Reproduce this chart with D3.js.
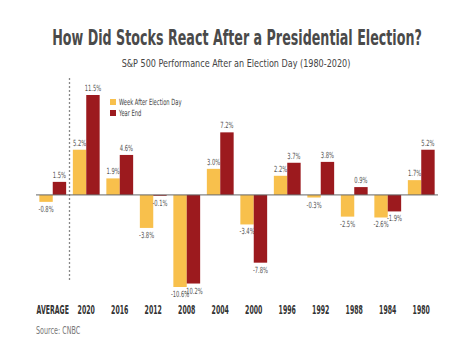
<!DOCTYPE html>
<html><head><meta charset="utf-8">
<script src="https://cdn.jsdelivr.net/npm/d3@7"></script>
<style>body{margin:0;background:#fff}svg{display:block}</style>
</head><body>
<svg id="c" width="474" height="355"></svg>
<script>
const categories = ["AVERAGE","2020","2016","2012","2008","2004","2000","1996","1992","1988","1984","1980"];
const weekAfter = [-0.8,5.2,1.9,-3.8,-10.6,3.0,-3.4,2.2,-0.3,-2.5,-2.6,1.7];
const yearEnd = [1.5,11.5,4.6,-0.1,-10.2,7.2,-7.8,3.7,3.8,0.9,-1.9,5.2];
const seriesNames = ["Week After Election Day","Year End"];
const colors = ["#F8C04C","#9C1A1E"];

const font = "'DejaVu Sans Condensed','Liberation Sans Narrow',sans-serif";
const svg = d3.select("#c");
// horizontally compress text (condensed display face look) via transform
function squeeze(sel, f, target){
  sel.each(function(){
    const s = d3.select(this);
    const tx = +s.attr("x"), ty = +s.attr("y");
    const w = this.getComputedTextLength();
    const k = target ? target / w : f;
    s.attr("x",0).attr("y",0).attr("transform",`translate(${tx},${ty}) scale(${k},1)`);
  });
}
const x = d3.scaleBand().domain(categories).range([36,438]).paddingInner(0.2).paddingOuter(0.1);
const y = d3.scaleLinear().domain([-10.6,11.5]).range([287,95]);
const x1 = d3.scaleBand().domain([0,1]).range([0,x.bandwidth()]);

svg.append("text").attr("x",237).attr("y",45).attr("text-anchor","middle")
  .attr("font-family",font).attr("font-weight","bold").attr("font-size",22).attr("fill","#4a4a4a")
  .text("How Did Stocks React After a Presidential Election?")
  .call(squeeze,null,370);
svg.append("text").attr("x",236).attr("y",67).attr("text-anchor","middle")
  .attr("font-family",font).attr("font-size",11).attr("fill","#444")
  .text("S&P 500 Performance After an Election Day (1980-2020)")
  .call(squeeze,null,229);

// dashed separator
const sepX = (x("AVERAGE")+x.bandwidth()+x("2020"))/2;
svg.append("line").attr("x1",sepX).attr("x2",sepX).attr("y1",78).attr("y2",281)
  .attr("stroke","#888").attr("stroke-width",1.3).attr("stroke-dasharray","2,2");

const series = [weekAfter, yearEnd];
series.forEach((vals,si)=>{
  const g = svg.append("g");
  g.selectAll("rect").data(vals).join("rect")
    .attr("x",(d,i)=>x(categories[i])+x1(si))
    .attr("width",x1.bandwidth())
    .attr("y",d=>y(Math.max(0,d)))
    .attr("height",d=>Math.abs(y(d)-y(0)))
    .attr("fill",colors[si]);
  g.selectAll("text").data(vals).join("text")
    .attr("x",(d,i)=>x(categories[i])+x1(si)+x1.bandwidth()/2)
    .attr("y",d=>d>=0 ? y(d)-4 : y(d)+10)
    .attr("text-anchor","middle")
    .attr("font-family",font).attr("font-size",8.5).attr("fill","#555")
    .text(d=>d.toFixed(1)+"%")
    .call(squeeze,0.68);
});

// zero axis
svg.append("line").attr("x1",36).attr("x2",438).attr("y1",y(0)).attr("y2",y(0))
  .attr("stroke","#666").attr("stroke-width",1);

// category labels
svg.append("g").selectAll("text").data(categories).join("text")
  .attr("x",d=>x(d)+x.bandwidth()/2).attr("y",314).attr("text-anchor","middle")
  .attr("font-family",font).attr("font-weight","bold").attr("font-size",11.5).attr("fill","#333")
  .text(d=>d)
  .call(squeeze,0.6);

svg.append("text").attr("x",36).attr("y",334).attr("font-family",font).attr("font-size",10.5)
  .attr("fill","#777").text("Source: CNBC").call(squeeze,0.68);

// legend
const lg = svg.append("g").attr("transform","translate(110,99)");
seriesNames.forEach((n,i)=>{
  lg.append("rect").attr("x",0).attr("y",i*11).attr("width",6).attr("height",6).attr("fill",colors[i]);
  lg.append("text").attr("x",9).attr("y",i*11+6).attr("font-family",font).attr("font-size",8.5)
    .attr("fill","#444").text(n).call(squeeze,0.68);
});
</script>
</body></html>
